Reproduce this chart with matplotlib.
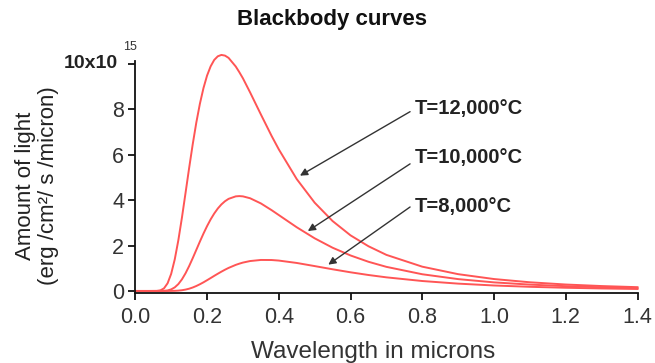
import matplotlib
matplotlib.use('Agg')
import matplotlib.pyplot as plt

plt.rcParams['font.family'] = ['Liberation Sans', 'DejaVu Sans']

# wavelength in microns
wavelength = [0.00, 0.04, 0.06, 0.07, 0.08, 0.09, 0.10, 0.11, 0.12, 0.13,
              0.14, 0.15, 0.16, 0.17, 0.18, 0.19, 0.20, 0.21, 0.22, 0.23,
              0.24, 0.25, 0.26, 0.28, 0.29, 0.30, 0.32, 0.35, 0.38, 0.40,
              0.45, 0.50, 0.55, 0.60, 0.65, 0.70, 0.80, 0.90, 1.00, 1.10,
              1.20, 1.30, 1.40]

# amount of light, units of 10^15
t12000 = [0, 0, 0.003, 0.026, 0.115, 0.338, 0.754, 1.393, 2.236, 3.232,
          4.314, 5.409, 6.456, 7.412, 8.244, 8.936, 9.488, 9.896, 10.18, 10.34,
          10.40, 10.37, 10.27, 9.89, 9.64, 9.37, 8.75, 7.78, 6.83, 6.24,
          4.93, 3.89, 3.08, 2.45, 1.97, 1.59, 1.07, 0.74, 0.525, 0.382,
          0.284, 0.216, 0.167]
t10000 = [0, 0, 0, 0.001, 0.006, 0.023, 0.069, 0.158, 0.303, 0.511,
          0.778, 1.093, 1.442, 1.807, 2.174, 2.526, 2.855, 3.153, 3.412, 3.633,
          3.813, 3.953, 4.058, 4.168, 4.18, 4.168, 4.085, 3.858, 3.560, 3.345,
          2.807, 2.320, 1.905, 1.564, 1.286, 1.062, 0.736, 0.522, 0.378, 0.280,
          0.211, 0.162, 0.126]
t8000 = [0, 0, 0, 0, 0, 0, 0.002, 0.006, 0.015, 0.032,
         0.060, 0.099, 0.152, 0.218, 0.295, 0.380, 0.473, 0.568, 0.665, 0.759,
         0.850, 0.936, 1.015, 1.149, 1.203, 1.250, 1.318, 1.366, 1.363, 1.339,
         1.234, 1.096, 0.955, 0.822, 0.703, 0.600, 0.438, 0.323, 0.241, 0.183,
         0.141, 0.110, 0.087]

curve_labels = ['T=12,000°C', 'T=10,000°C', 'T=8,000°C']
xticks = [0.0, 0.2, 0.4, 0.6, 0.8, 1.0, 1.2, 1.4]
yticks = [0, 2, 4, 6, 8, 10]
ytick_labels = ['0', '2', '4', '6', '8', '']

W, H = 655, 363
fig = plt.figure(figsize=(W / 100, H / 100), dpi=100)
ax = fig.add_axes([135.3 / W, 1 - 293 / H, (637.5 - 135.3) / W, (293 - 60.6) / H])

red = '#ff5555'
for ys in (t12000, t10000, t8000):
    ax.plot(wavelength, ys, color=red, lw=1.4, solid_joinstyle='round',
            clip_on=False)

ax.set_xlim(0, 1.4)
ax.set_ylim(-0.09, 10.15)
ax.set_xticks(xticks)
ax.set_xticklabels(['%.1f' % v for v in xticks])
ax.set_yticks(yticks)
ax.set_yticklabels(ytick_labels)

for s in ('top', 'right'):
    ax.spines[s].set_visible(False)
for s in ('left', 'bottom'):
    ax.spines[s].set_linewidth(1.3)
    ax.spines[s].set_color('#111111')
ax.tick_params(direction='out', length=5, width=1.3, labelsize=15.5,
               labelcolor='#333333', color='#111111')
ax.tick_params(axis='x', pad=5)
ax.tick_params(axis='y', pad=3)

# top tick label with its exponent
fig.text(118 / W, 1 - 63 / H, '10x10', fontsize=14, fontweight='bold',
         color='#222222', ha='right', va='center')
fig.text(130 / W, 1 - 47 / H, '15', fontsize=9, color='#333333',
         ha='center', va='center')

fig.text(332 / W, 1 - 20 / H, 'Blackbody curves', fontsize=16,
         fontweight='bold', ha='center', va='center', color='#111111')
fig.text(373.5 / W, 1 - 352 / H, 'Wavelength in microns', fontsize=17.5,
         color='#333333', ha='center', va='center')
fig.text(37 / W, 1 - 186 / H, 'Amount of light\n(erg /cm²/ s /micron)',
         rotation=90, fontsize=16, ha='center', va='center',
         multialignment='center', color='#222222', linespacing=1.1)

starts = [(0.766, 7.90), (0.766, 5.60), (0.766, 3.70)]
tips = [(0.459, 5.08), (0.481, 2.64), (0.538, 1.16)]
text_y = [8.04, 5.87, 3.70]
for lab, st, tp, ty in zip(curve_labels, starts, tips, text_y):
    ax.annotate('', xy=tp, xytext=st,
                arrowprops=dict(arrowstyle='-|>', color='#333333', lw=1.0,
                                mutation_scale=11, shrinkA=0, shrinkB=0))
    ax.text(0.78, ty, lab, fontsize=14.5, fontweight='bold', color='#222222',
            ha='left', va='center')

fig.savefig('out.png', dpi=100)
